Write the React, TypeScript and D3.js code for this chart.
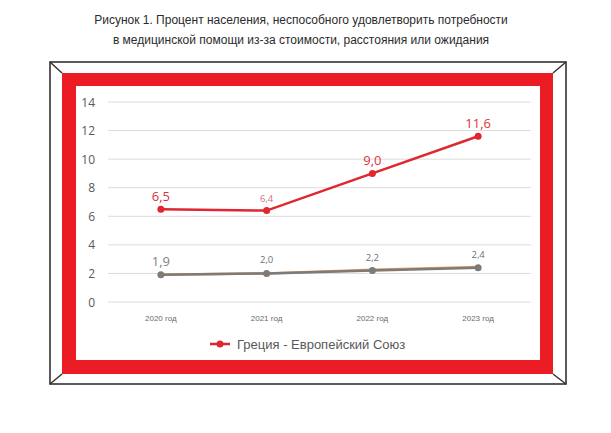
import React from "react";
import * as d3 from "d3";

const years = ["2020 год", "2021 год", "2022 год", "2023 год"];
const greece = [6.5, 6.4, 9.0, 11.6];
const greeceLabels = ["6,5", "6,4", "9,0", "11,6"];
const eu = [1.9, 2.0, 2.2, 2.4];
const euOrange = [1.9, 2.0, 2.25, 2.45];
const euLabels = ["1,9", "2,0", "2,2", "2,4"];
const yTicks = [0, 2, 4, 6, 8, 10, 12, 14];
const titleLines = [
  "Рисунок 1. Процент населения, неспособного удовлетворить потребности",
  "в медицинской помощи из-за стоимости, расстояния или ожидания",
];
const legendText = "Греция - Европейский Союз";

const W = 611, H = 433;
const plot = { left: 108, right: 531, top: 102, bottom: 302 };
const RED = "#ec1c24";
const LINE_RED = "#e0262f";
const GRAY = "#7b7b7b";
const ORANGE = "#ed9a50";

export default function App() {
  const x = d3.scaleBand<string>().domain(years).range([plot.left, plot.right]);
  const y = d3.scaleLinear().domain([0, 14]).range([plot.bottom, plot.top]);
  const cx = (i: number) => (x(years[i]) as number) + x.bandwidth() / 2;
  const line = d3.line<number>().x((_, i) => cx(i)).y((d) => y(d));
  const big = [true, false, true, true];
  const bigEu = [true, false, false, false];

  return (
    <svg width={W} height={H} style={{ position: "absolute", left: 0, top: 0, background: "#fff" }}>
      <rect x={0} y={0} width={W} height={H} fill="#fff" />
      {titleLines.map((t, i) => (
        <text key={i} x={301} y={24 + i * 20} textAnchor="middle" fontFamily="Liberation Sans, Arial" fontSize={12} fill="#2b2b2b">
          {t}
        </text>
      ))}
      {/* frame */}
      <rect x={50} y={62} width={516} height={322} fill="#fff" stroke="#333" strokeWidth={1.6} />
      <line x1={50} y1={62} x2={62} y2={73} stroke="#333" strokeWidth={1.5} />
      <line x1={566} y1={62} x2={553} y2={73} stroke="#333" strokeWidth={1.5} />
      <line x1={50} y1={384} x2={62} y2={374} stroke="#333" strokeWidth={1.5} />
      <line x1={566} y1={384} x2={553} y2={374} stroke="#333" strokeWidth={1.5} />
      <rect x={62} y={73} width={491} height={301} fill={RED} />
      <rect x={76} y={86} width={464} height={274} fill="#fff" />
      {/* grid */}
      {yTicks.map((t) => (
        <g key={t}>
          <line x1={plot.left} x2={plot.right} y1={y(t)} y2={y(t)} stroke="#dcdcdc" strokeWidth={1} />
          <text x={95} y={y(t) + 4.5} textAnchor="end" fontFamily="Open Sans, Liberation Sans" fontSize={12} fill="#595959">
            {t}
          </text>
        </g>
      ))}
      {years.map((yr, i) => (
        <text key={yr} x={cx(i)} y={321} textAnchor="middle" fontFamily="Liberation Sans, Arial" fontSize={8} fill="#6a6a6a">
          {yr}
        </text>
      ))}
      {/* EU lines */}
      <path d={line(euOrange) || ""} fill="none" stroke={ORANGE} strokeWidth={2.5} />
      <path d={line(eu) || ""} fill="none" stroke={GRAY} strokeWidth={2.5} />
      {eu.map((v, i) => (
        <circle key={i} cx={cx(i)} cy={y(v)} r={3.5} fill={GRAY} />
      ))}
      {eu.map((v, i) => (
        <text key={i} x={cx(i)} y={y(v) - (bigEu[i] ? 9 : 10)} textAnchor="middle" fontFamily="Open Sans, Liberation Sans" fontSize={bigEu[i] ? 13 : 9.5} fill={bigEu[i] ? "#808080" : "#707070"}>
          {euLabels[i]}
        </text>
      ))}
      {/* Greece line */}
      <path d={line(greece) || ""} fill="none" stroke={LINE_RED} strokeWidth={2.5} />
      {greece.map((v, i) => (
        <circle key={i} cx={cx(i)} cy={y(v)} r={3.5} fill={LINE_RED} />
      ))}
      {greece.map((v, i) => (
        <text key={i} x={cx(i)} y={y(v) - (big[i] ? 8 : 9)} textAnchor="middle" fontFamily="Open Sans, Liberation Sans" fontSize={big[i] ? 13 : 9.5} fill={big[i] ? "#d9343b" : "#d0707a"}>
          {greeceLabels[i]}
        </text>
      ))}
      {/* legend */}
      <line x1={210} x2={230} y1={344} y2={344} stroke={LINE_RED} strokeWidth={2.5} />
      <circle cx={220} cy={344} r={3.5} fill={LINE_RED} />
      <text x={237} y={348.5} fontFamily="Liberation Sans, Arial" fontSize={13} fill="#595959">
        {legendText}
      </text>
    </svg>
  );
}
